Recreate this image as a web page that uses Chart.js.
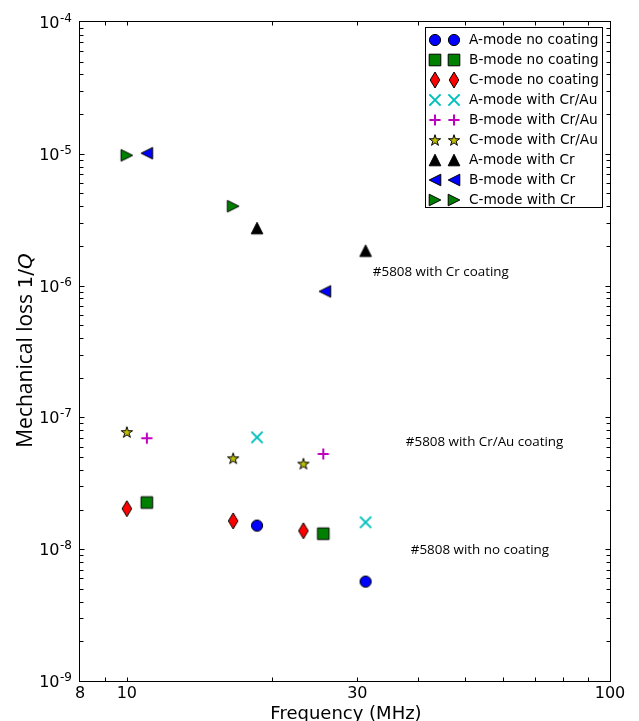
<!DOCTYPE html>
<html><head><meta charset="utf-8">
<script src="https://cdn.jsdelivr.net/npm/chart.js@4/dist/chart.umd.min.js"></script>
<style>html,body{margin:0;padding:0;background:#fff;}canvas{display:block;}</style>
</head><body>
<canvas id="c" width="639" height="721"></canvas>
<script>
// ---- data ----
const seriesLabels = ["A-mode no coating","B-mode no coating","C-mode no coating",
  "A-mode with Cr/Au","B-mode with Cr/Au","C-mode with Cr/Au",
  "A-mode with Cr","B-mode with Cr","C-mode with Cr"];
const aNoCoatFreq = [18.6, 31.2];        const aNoCoatLoss = [1.51e-8, 5.68e-9];
const bNoCoatFreq = [11.0, 25.5];        const bNoCoatLoss = [2.26e-8, 1.31e-8];
const cNoCoatFreq = [10.0, 16.6, 23.2];  const cNoCoatLoss = [2.03e-8, 1.64e-8, 1.38e-8];
const aCrAuFreq = [18.6, 31.2];          const aCrAuLoss = [7.06e-8, 1.60e-8];
const bCrAuFreq = [11.0, 25.5];          const bCrAuLoss = [6.95e-8, 5.28e-8];
const cCrAuFreq = [10.0, 16.6, 23.2];    const cCrAuLoss = [7.75e-8, 4.90e-8, 4.46e-8];
const aCrFreq = [18.6, 31.2];            const aCrLoss = [2.73e-6, 1.84e-6];
const bCrFreq = [11.0, 25.7];            const bCrLoss = [1.01e-5, 9.04e-7];
const cCrFreq = [10.0, 16.6];            const cCrLoss = [9.73e-6, 4.00e-6];
const xTickValues = [8, 10, 30, 100];
const xTickLabels = ["8", "10", "30", "100"];
const yTickExponents = [-9, -8, -7, -6, -5, -4];
const noteTexts = ["#5808 with Cr coating", "#5808 with Cr/Au coating", "#5808 with no coating"];
const noteFreq = [32.3, 37.8, 38.7];
const noteLoss = [1.26e-6, 6.48e-8, 9.88e-9];

// ---- markers (matplotlib-like) ----
function marker(kind, fill) {
  const c = document.createElement('canvas');
  c.width = 22; c.height = 22;
  const g = c.getContext('2d');
  g.translate(11, 11);
  g.lineWidth = 1; g.strokeStyle = '#000'; g.fillStyle = fill;
  g.lineJoin = 'miter';
  g.beginPath();
  const s = 5.8;
  if (kind === 'o') { g.arc(0, 0, 5.6, 0, Math.PI * 2); }
  else if (kind === 's') { g.rect(-s, -s, 2 * s, 2 * s); }
  else if (kind === 'd') { g.moveTo(0, -8); g.lineTo(4.8, 0); g.lineTo(0, 8); g.lineTo(-4.8, 0); g.closePath(); }
  else if (kind === '^') { g.moveTo(0, -s); g.lineTo(s, s); g.lineTo(-s, s); g.closePath(); }
  else if (kind === '<') { g.moveTo(-s, 0); g.lineTo(s, -s); g.lineTo(s, s); g.closePath(); }
  else if (kind === '>') { g.moveTo(s, 0); g.lineTo(-s, -s); g.lineTo(-s, s); g.closePath(); }
  else if (kind === '*') {
    const R = 5.9, r = R * 0.381966;
    for (let i = 0; i < 10; i++) {
      const a = -Math.PI / 2 + i * Math.PI / 5, rr = i % 2 ? r : R;
      const px = Math.cos(a) * rr, py = Math.sin(a) * rr + 0.6;
      i ? g.lineTo(px, py) : g.moveTo(px, py);
    }
    g.closePath();
  }
  if (kind === 'x' || kind === '+') {
    g.strokeStyle = fill; g.lineWidth = 2; g.lineCap = 'butt';
    const h = 5.6;
    if (kind === 'x') { g.moveTo(-h, -h); g.lineTo(h, h); g.moveTo(-h, h); g.lineTo(h, -h); }
    else { g.moveTo(-h, 0); g.lineTo(h, 0); g.moveTo(0, -h); g.lineTo(0, h); }
    g.stroke();
  } else {
    g.fill(); g.stroke();
  }
  return c;
}
const markers = [
  marker('o', '#0000ff'), marker('s', '#008000'), marker('d', '#ff0000'),
  marker('x', '#00bfbf'), marker('+', '#bf00bf'), marker('*', '#bfbf00'),
  marker('^', '#000000'), marker('<', '#0000ff'), marker('>', '#008000')
];
const seriesFreq = [aNoCoatFreq, bNoCoatFreq, cNoCoatFreq, aCrAuFreq, bCrAuFreq, cCrAuFreq, aCrFreq, bCrFreq, cCrFreq];
const seriesLoss = [aNoCoatLoss, bNoCoatLoss, cNoCoatLoss, aCrAuLoss, bCrAuLoss, cCrAuLoss, aCrLoss, bCrLoss, cCrLoss];

const datasets = seriesLabels.map((lab, i) => ({
  label: lab,
  data: seriesFreq[i].map((f, j) => ({ x: f, y: seriesLoss[i][j] })),
  pointStyle: markers[i],
  pointRadius: 6,
  showLine: false
}));

const decor = {
  id: 'decor',
  afterDraw(chart) {
    const ctx = chart.ctx, a = chart.chartArea;
    const xs = chart.scales.x, ys = chart.scales.y;
    ctx.save();
    // annotations
    ctx.fillStyle = '#000';
    ctx.font = '13.4px "Open Sans"';
    ctx.textAlign = 'left'; ctx.textBaseline = 'middle';
    noteTexts.forEach((t, i) => ctx.fillText(t, xs.getPixelForValue(noteFreq[i]), ys.getPixelForValue(noteLoss[i])));

    // frame
    ctx.strokeStyle = '#000'; ctx.lineWidth = 1;
    const L = Math.round(a.left) - 0.5, R = Math.round(a.right) + 0.5;
    const T = Math.round(a.top) - 0.5, B = Math.round(a.bottom) + 0.5;
    ctx.strokeRect(L, T, R - L, B - T);
    // ticks
    ctx.beginPath();
    const xt = [9, 10, 20, 30, 40, 50, 60, 70, 80, 90];
    xt.forEach(v => {
      const px = Math.round(xs.getPixelForValue(v)) + 0.5;
      ctx.moveTo(px, B); ctx.lineTo(px, B - 4);
      ctx.moveTo(px, T); ctx.lineTo(px, T + 4);
    });
    for (let e = -9; e <= -5; e++) {
      for (let m = 1; m <= 9; m++) {
        const v = m * Math.pow(10, e);
        if (e === -9 && m === 1) continue;
        const py = Math.round(ys.getPixelForValue(v)) + 0.5;
        const len = m === 1 ? 5 : 4;
        ctx.moveTo(L, py); ctx.lineTo(L + len, py);
        ctx.moveTo(R, py); ctx.lineTo(R - len, py);
      }
    }
    ctx.stroke();

    // x tick labels
    ctx.fillStyle = '#000';
    ctx.font = '16px "DejaVu Sans"';
    ctx.textAlign = 'center'; ctx.textBaseline = 'alphabetic';
    xTickValues.forEach((v, i) => ctx.fillText(xTickLabels[i], xs.getPixelForValue(v), B + 16));
    // y tick labels 10^e
    yTickExponents.forEach(e => {
      const py = ys.getPixelForValue(Math.pow(10, e));
      const rx = L - 7.5;
      ctx.textAlign = 'right';
      ctx.font = '12px "DejaVu Sans"';
      const es = String(e);
      const ew = ctx.measureText(es).width;
      ctx.fillText(es, rx, py);
      ctx.font = '16px "DejaVu Sans"';
      ctx.fillText('10', rx - ew - 0.5, py + 6);
    });
    // x title
    ctx.font = '18px "DejaVu Sans"';
    ctx.textAlign = 'center';
    ctx.fillText('Frequency (MHz)', (a.left + a.right) / 2 + 1, 719);
    // y title
    ctx.save();
    ctx.translate(32, (a.top + a.bottom) / 2 - 1);
    ctx.rotate(-Math.PI / 2);
    ctx.textAlign = 'left';
    const p1 = 'Mechanical loss ', p2 = '1/', p3 = 'Q';
    const fs = 21;
    ctx.font = fs + 'px "Open Sans"'; const w1 = ctx.measureText(p1).width;
    ctx.font = (fs - 1) + 'px "DejaVu Sans"'; const w2 = ctx.measureText(p2).width;
    ctx.font = 'italic ' + (fs - 1) + 'px "DejaVu Sans"'; const w3 = ctx.measureText(p3).width;
    let x0 = -(w1 + w2 + w3) / 2;
    ctx.font = fs + 'px "Open Sans"'; ctx.fillText(p1, x0, 0); x0 += w1;
    ctx.font = (fs - 1) + 'px "DejaVu Sans"'; ctx.fillText(p2, x0, 0); x0 += w2;
    ctx.font = 'italic ' + (fs - 1) + 'px "DejaVu Sans"'; ctx.fillText(p3, x0, 0);
    ctx.restore();

    // legend
    const lx = 425.5, ly = 27.5, lw = 177, lh = 180;
    ctx.fillStyle = '#fff';
    ctx.fillRect(lx, ly, lw, lh);
    ctx.strokeStyle = '#000'; ctx.lineWidth = 1;
    ctx.strokeRect(lx, ly, lw, lh);
    ctx.font = '13.7px "DejaVu Sans"';
    ctx.fillStyle = '#000';
    ctx.textAlign = 'left'; ctx.textBaseline = 'middle';
    seriesLabels.forEach((lab, i) => {
      const cy = 39.7 + 20 * i;
      const m = markers[i];
      ctx.drawImage(m, Math.round(435 - m.width / 2), Math.round(cy - m.height / 2));
      ctx.drawImage(m, Math.round(454 - m.width / 2), Math.round(cy - m.height / 2));
      ctx.fillText(lab, 469, cy + 0.5);
    });
    ctx.restore();
  }
};

new Chart(document.getElementById('c'), {
  type: 'scatter',
  data: { datasets },
  options: {
    responsive: false,
    devicePixelRatio: 1,
    animation: false,
    layout: { padding: { left: 0, right: 29, top: 22, bottom: 0 } },
    plugins: { legend: { display: false }, tooltip: { enabled: false } },
    scales: {
      x: {
        type: 'logarithmic', min: 8, max: 100,
        grid: { display: false }, border: { display: false },
        ticks: { display: false },
        afterFit(s) { s.height = 40; }
      },
      y: {
        type: 'logarithmic', min: 1e-9, max: 1e-4,
        grid: { display: false }, border: { display: false },
        ticks: { display: false },
        afterFit(s) { s.width = 80; }
      }
    }
  },
  plugins: [decor]
});
</script>
</body></html>
